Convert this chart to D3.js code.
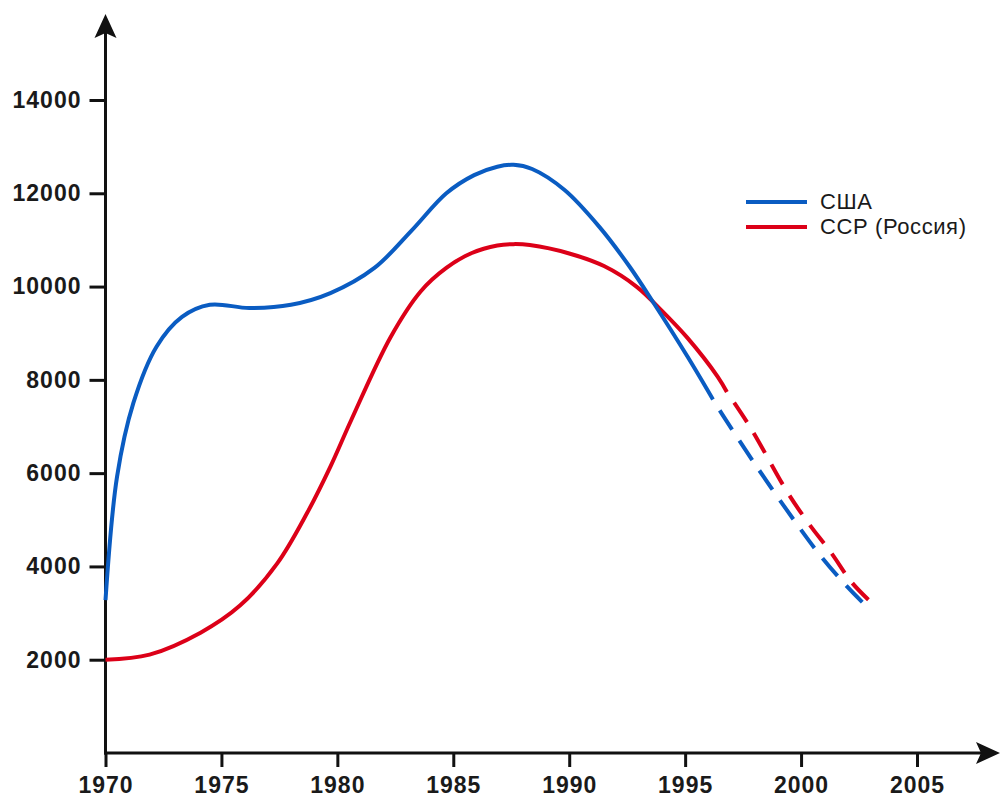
<!DOCTYPE html>
<html>
<head>
<meta charset="utf-8">
<script src="https://cdn.jsdelivr.net/npm/d3@7"></script>
<style>
  body { margin: 0; background: #fff; }
  text { font-family: 'Liberation Sans', Arial, sans-serif; }
</style>
</head>
<body>
<div id="chart"></div>
<script>
// values
const usaYears = [1970, 1970.5, 1971.2, 1972.2, 1973.3, 1974.5, 1976.2, 1978, 1979.7, 1981.6, 1983.2, 1984.7, 1985.9, 1986.9, 1987.6, 1988.4, 1989.8, 1991.3, 1992.6, 1993.6, 1995.1, 1996.2]
const usaValues = [3280, 5930, 7500, 8710, 9350, 9610, 9540, 9610, 9860, 10400, 11200, 12000, 12390, 12570, 12610, 12520, 12070, 11280, 10430, 9680, 8500, 7580]
const usaForecastYears = [1996.2, 1996.6, 1998.1, 1999.9, 2000.9, 2002, 2002.75]
const usaForecastValues = [7580, 7260, 6130, 4850, 4190, 3560, 3180]

const ussrYears = [1970, 1971.9, 1974.1, 1975.8, 1977.4, 1978.7, 1979.7, 1980.6, 1982.3, 1983.6, 1984.7, 1985.8, 1986.9, 1987.6, 1988.3, 1990, 1991.5, 1992.9, 1994, 1995.1, 1996.4, 1996.8]
const ussrValues = [2000, 2110, 2580, 3160, 4060, 5150, 6140, 7140, 8920, 9900, 10400, 10720, 10880, 10910, 10890, 10710, 10440, 10000, 9480, 8900, 8070, 7740]
const ussrForecastYears = [1996.8, 1997.8, 1999.4, 2000.3, 2001.3, 2002.2, 2003]
const ussrForecastValues = [7740, 6990, 5600, 4940, 4290, 3650, 3240]

const yTicks = [2000, 4000, 6000, 8000, 10000, 12000, 14000]
const xTicks = [1970, 1975, 1980, 1985, 1990, 1995, 2000, 2005]
const seriesNames = ['США', 'ССР (Россия)']
const colors = ['#0a5cc2', '#dc0018']

const width = 1001
const height = 801

const x = d3.scaleLinear().domain([1970, 2005]).range([105.5, 917])
const y = d3.scaleLinear().domain([0, 14000]).range([753, 100])

const svg = d3.select('#chart').append('svg')
  .attr('width', width)
  .attr('height', height)

// axes
const yAxis = svg.append('g')
  .attr('transform', 'translate(' + x(1970) + ',0)')
  .call(d3.axisLeft(y).tickValues(yTicks).tickSize(16).tickPadding(8).tickFormat(d3.format('d')))
yAxis.select('.domain').remove()
yAxis.selectAll('line').attr('stroke', '#111').attr('stroke-width', 3)
yAxis.selectAll('text')
  .attr('fill', '#1a1a1a')
  .attr('font-size', 23)
  .attr('font-weight', 'bold')
  .attr('letter-spacing', 1)
  .attr('font-family', "'Liberation Sans', Arial, sans-serif")

const xAxis = svg.append('g')
  .attr('transform', 'translate(0,' + y(0) + ')')
  .call(d3.axisBottom(x).tickValues(xTicks).tickSize(14).tickPadding(10).tickFormat(d3.format('d')))
xAxis.select('.domain').remove()
xAxis.selectAll('line').attr('stroke', '#111').attr('stroke-width', 3)
xAxis.selectAll('text')
  .attr('fill', '#1a1a1a')
  .attr('font-size', 23)
  .attr('font-weight', 'bold')
  .attr('letter-spacing', 1)
  .attr('font-family', "'Liberation Sans', Arial, sans-serif")

// axis lines with arrows
svg.append('line')
  .attr('x1', x(1970)).attr('y1', y(0) + 1.5)
  .attr('x2', x(1970)).attr('y2', 30)
  .attr('stroke', '#111').attr('stroke-width', 3)
svg.append('line')
  .attr('x1', x(1970) - 1.5).attr('y1', y(0))
  .attr('x2', 985).attr('y2', y(0))
  .attr('stroke', '#111').attr('stroke-width', 3)

const ax = x(1970)
svg.append('path')
  .attr('d', `M${ax},14 L${ax + 11},38 L${ax},33 L${ax - 11},38 Z`)
  .attr('fill', '#111')
const ay = y(0)
svg.append('path')
  .attr('d', `M1000,${ay} L976,${ay - 11} L981,${ay} L976,${ay + 11} Z`)
  .attr('fill', '#111')

// lines
const line = d3.line()
  .x(d => x(d[0]))
  .y(d => y(d[1]))
  .curve(d3.curveCatmullRom.alpha(0.5))

const series = [
  { solid: d3.zip(usaYears, usaValues), dashed: d3.zip(usaForecastYears, usaForecastValues) },
  { solid: d3.zip(ussrYears, ussrValues), dashed: d3.zip(ussrForecastYears, ussrForecastValues) }
]

// draw red first so blue sits on top where they cross
series.slice().reverse().forEach((s, k) => {
  const i = series.length - 1 - k
  svg.append('path')
    .attr('d', line(s.solid))
    .attr('fill', 'none')
    .attr('stroke', colors[i])
    .attr('stroke-width', 4)
  svg.append('path')
    .attr('d', line(s.dashed))
    .attr('fill', 'none')
    .attr('stroke', colors[i])
    .attr('stroke-width', 4)
    .attr('stroke-dasharray', '23,13')
    .attr('stroke-dashoffset', 23)
})

// legend
const legend = svg.append('g').attr('transform', 'translate(746,202)')
seriesNames.forEach((name, i) => {
  legend.append('line')
    .attr('x1', 0).attr('x2', 61)
    .attr('y1', i * 25).attr('y2', i * 25)
    .attr('stroke', colors[i])
    .attr('stroke-width', 4)
  legend.append('text')
    .attr('x', 74)
    .attr('y', i * 25 + 7)
    .attr('font-size', 22)
    .attr('letter-spacing', 0.6)
    .attr('fill', '#1a1a1a')
    .text(name)
})
</script>
</body>
</html>
